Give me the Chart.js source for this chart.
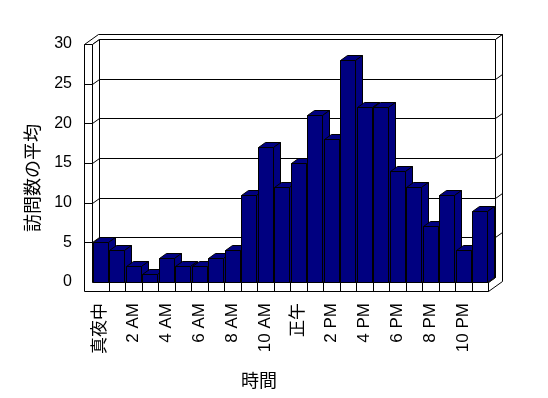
<!DOCTYPE html>
<html>
<head>
<meta charset="utf-8">
<script src="https://cdn.jsdelivr.net/npm/chart.js@4/dist/chart.umd.min.js"></script>
<style>
  body { margin: 0; background: #fff; }
</style>
</head>
<body>
<canvas id="chart" width="548" height="398"></canvas>
<script>
const hourLabels = [
  "真夜中", "1 AM", "2 AM", "3 AM", "4 AM", "5 AM", "6 AM", "7 AM", "8 AM", "9 AM", "10 AM", "11 AM",
  "正午", "1 PM", "2 PM", "3 PM", "4 PM", "5 PM", "6 PM", "7 PM", "8 PM", "9 PM", "10 PM", "11 PM",
]
const avgVisits = [5, 4, 2, 1, 3, 2, 2, 3, 4, 11, 17, 12, 15, 21, 18, 28, 22, 22, 14, 12, 7, 11, 4, 9]
const yMax = 30
const yStep = 5
const xTitle = "時間"
const yTitle = "訪問数の平均"

const BAR_COLOR = "#000080"
const FONT = '"Liberation Sans", "Noto Sans CJK JP", sans-serif'

// depth of the fake 3d box
const DX = 7
const DY = -5
const WALL_W = 8
const FLOOR_H = 9

const px = (v) => Math.round(v) + 0.5

/** @type {(ctx: CanvasRenderingContext2D, pts: number[][], fill?: string) => void} */
const shape = (ctx, pts, fill) => {
  ctx.beginPath()
  pts.forEach(([x, y], i) => (i ? ctx.lineTo(px(x), px(y)) : ctx.moveTo(px(x), px(y))))
  ctx.closePath()
  if (fill) {
    ctx.fillStyle = fill
    ctx.fill()
  }
  ctx.stroke()
}

/** @type {(ctx: CanvasRenderingContext2D, pts: number[][]) => void} */
const line = (ctx, pts) => {
  ctx.beginPath()
  pts.forEach(([x, y], i) => (i ? ctx.lineTo(px(x), px(y)) : ctx.moveTo(px(x), px(y))))
  ctx.stroke()
}

const box3d = {
  id: "box3d",
  beforeDatasetsDraw(chart) {
    const {ctx, chartArea} = chart
    const L = chartArea.left
    const R = chartArea.right
    const yS = chart.scales.y
    const xS = chart.scales.x
    const T = yS.getPixelForValue(yMax)
    const B = yS.getPixelForValue(0)

    ctx.save()
    ctx.strokeStyle = "#000"
    ctx.lineWidth = 1

    // top of the walls
    shape(ctx, [[L - WALL_W, T], [L, T], [L + DX, T + DY], [R + DX, T + DY], [R + 2 * DX, T + 2 * DY], [L - WALL_W + 2 * DX, T + 2 * DY]], "#fff")
    // right edge of back wall and floor
    shape(ctx, [[R + DX, T + DY], [R + 2 * DX, T + 2 * DY], [R + 2 * DX, B + FLOOR_H + 2 * DY], [R, B + FLOOR_H], [R, B], [R + DX, B + DY]], "#fff")
    // back wall, left wall inside, floor top
    shape(ctx, [[L + DX, T + DY], [R + DX, T + DY], [R + DX, B + DY], [L + DX, B + DY]], "#fff")
    shape(ctx, [[L, T], [L + DX, T + DY], [L + DX, B + DY], [L, B]], "#fff")
    shape(ctx, [[L, B], [R, B], [R + DX, B + DY], [L + DX, B + DY]], "#fff")
    // front faces of left wall and floor
    shape(ctx, [[L - WALL_W, T], [L, T], [L, B], [R, B], [R, B + FLOOR_H], [L - WALL_W, B + FLOOR_H]], "#fff")

    for (let v = yStep; v < yMax; v += yStep) {
      const y = yS.getPixelForValue(v)
      line(ctx, [[L - WALL_W, y], [L, y], [L + DX, y + DY], [R + DX, y + DY], [R + 2 * DX, y + 2 * DY]])
    }

    // category cells on the floor
    const pitch = xS.getPixelForValue(1) - xS.getPixelForValue(0)
    for (let i = 1; i < hourLabels.length; i++) {
      const x = xS.getPixelForValue(i) - pitch / 2
      line(ctx, [[x, B], [x, B + FLOOR_H]])
    }
    ctx.restore()
  },
  afterDatasetsDraw(chart) {
    const {ctx} = chart
    const meta = chart.getDatasetMeta(0)
    ctx.save()
    ctx.strokeStyle = "#000"
    ctx.lineWidth = 1
    for (const bar of meta.data) {
      const {x, y, base, width} = bar.getProps(["x", "y", "base", "width"], true)
      const xl = x - width / 2
      const xr = x + width / 2
      shape(ctx, [[xl, y], [xr, y], [xr, base], [xl, base]], BAR_COLOR)
      shape(ctx, [[xl, y], [xr, y], [xr + DX, y + DY], [xl + DX, y + DY]], BAR_COLOR)
      shape(ctx, [[xr, y], [xr + DX, y + DY], [xr + DX, base + DY], [xr, base]], BAR_COLOR)
    }
    ctx.restore()
  },
  afterDraw(chart) {
    const {ctx} = chart
    ctx.save()
    ctx.fillStyle = "#000"
    ctx.font = '18px "Noto Sans CJK JP", sans-serif'
    ctx.textAlign = "center"
    ctx.textBaseline = "middle"
    ctx.fillText(xTitle, 259, 380)
    ctx.translate(32, 178)
    ctx.rotate(-Math.PI / 2)
    ctx.fillText(yTitle, 0, 0)
    ctx.restore()
  },
}

const canvas = document.getElementById("chart")

if (!(canvas instanceof HTMLCanvasElement)) {
  throw new Error("canvas not found!")
}

new Chart(canvas.getContext("2d"), {
  type: "bar",
  data: {
    labels: hourLabels,
    datasets: [
      {
        data: avgVisits,
        backgroundColor: "rgba(0,0,0,0)",
        borderWidth: 0,
        barPercentage: 0.88,
        categoryPercentage: 1,
      },
    ],
  },
  options: {
    animation: false,
    responsive: false,
    layout: {padding: {top: 44, right: 60, left: 0, bottom: 0}},
    plugins: {
      legend: {display: false},
      tooltip: {enabled: false},
    },
    scales: {
      x: {
        grid: {display: false, drawTicks: false},
        border: {display: false},
        ticks: {
          autoSkip: false,
          minRotation: 90,
          maxRotation: 90,
          padding: 21,
          color: "#000",
          font: {family: FONT, size: 17},
          callback: (value, index) => (index % 2 === 0 ? hourLabels[index] : ""),
        },
        afterFit: (scale) => {
          scale.height = 116
        },
      },
      y: {
        min: 0,
        max: yMax,
        grid: {display: false, drawTicks: false},
        border: {display: false},
        ticks: {
          stepSize: yStep,
          padding: 20,
          color: "#000",
          font: {family: FONT, size: 16},
        },
        afterFit: (scale) => {
          scale.width = 92
        },
      },
    },
  },
  plugins: [box3d],
})
</script>
</body>
</html>
